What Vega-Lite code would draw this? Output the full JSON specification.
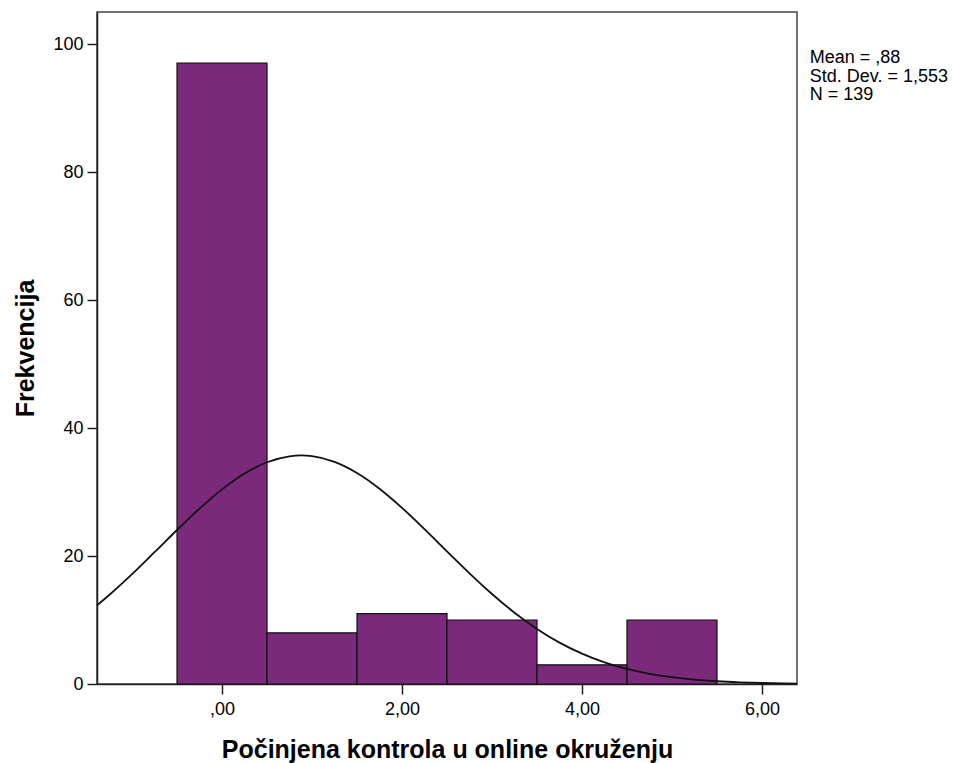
{
  "$schema": "https://vega.github.io/schema/vega-lite/v6.json",
  "autosize": "none",
  "width": 700,
  "height": 672,
  "padding": {"left": 97, "top": 12, "right": 158, "bottom": 79},
  "background": "white",
  "config": {
    "font": "Liberation Sans",
    "view": {"stroke": "#444", "strokeWidth": 1.5},
    "axis": {
      "grid": false,
      "domainColor": "#222",
      "domainWidth": 1.5,
      "tickColor": "#222",
      "tickWidth": 1.5,
      "tickSize": 10,
      "labelColor": "#000",
      "labelFontSize": 18,
      "labelFont": "Liberation Sans",
      "titleColor": "#000",
      "titleFont": "Liberation Sans",
      "titleFontWeight": "bold",
      "titleFontSize": 25
    }
  },
  "datasets": {
    "bins": [
      {"start": -0.5, "end": 0.5, "count": 97},
      {"start": 0.5, "end": 1.5, "count": 8},
      {"start": 1.5, "end": 2.5, "count": 11},
      {"start": 2.5, "end": 3.5, "count": 10},
      {"start": 3.5, "end": 4.5, "count": 3},
      {"start": 4.5, "end": 5.5, "count": 10}
    ],
    "curve": [
      {"x": -1.389, "y": 12.28},
      {"x": -1.25, "y": 13.94},
      {"x": -1.0, "y": 17.16},
      {"x": -0.75, "y": 20.59},
      {"x": -0.5, "y": 24.06},
      {"x": -0.25, "y": 27.40},
      {"x": 0.0, "y": 30.41},
      {"x": 0.25, "y": 32.89},
      {"x": 0.5, "y": 34.65},
      {"x": 0.75, "y": 35.58},
      {"x": 0.88, "y": 35.71},
      {"x": 1.0, "y": 35.60},
      {"x": 1.25, "y": 34.71},
      {"x": 1.5, "y": 32.97},
      {"x": 1.75, "y": 30.52},
      {"x": 2.0, "y": 27.53},
      {"x": 2.25, "y": 24.20},
      {"x": 2.5, "y": 20.72},
      {"x": 2.75, "y": 17.30},
      {"x": 3.0, "y": 14.07},
      {"x": 3.25, "y": 11.14},
      {"x": 3.5, "y": 8.61},
      {"x": 3.75, "y": 6.47},
      {"x": 4.0, "y": 4.75},
      {"x": 4.25, "y": 3.39},
      {"x": 4.5, "y": 2.36},
      {"x": 4.75, "y": 1.60},
      {"x": 5.0, "y": 1.058},
      {"x": 5.25, "y": 0.681},
      {"x": 5.5, "y": 0.428},
      {"x": 5.75, "y": 0.261},
      {"x": 6.0, "y": 0.156},
      {"x": 6.25, "y": 0.090},
      {"x": 6.389, "y": 0.066}
    ],
    "stats": [
      {"x": 6.53, "y": 97.0, "t": "Mean = ,88"},
      {"x": 6.53, "y": 94.1, "t": "Std. Dev. = 1,553"},
      {"x": 6.53, "y": 91.2, "t": "N = 139"}
    ]
  },
  "layer": [
    {
      "data": {"name": "bins"},
      "mark": {"type": "rect", "fill": "#7b2a7b", "stroke": "#111", "strokeWidth": 1.2},
      "encoding": {
        "x": {
          "field": "start", "type": "quantitative",
          "scale": {"domain": [-1.389, 6.389], "nice": false, "zero": false},
          "axis": {
            "values": [0, 2, 4, 6],
            "labelExpr": "datum.value == 0 ? ',00' : replace(format(datum.value, '.2f'), '.', ',')",
            "labelPadding": 6,
            "title": "Počinjena kontrola u online okruženju",
            "titleY": 73,
            "titleBaseline": "alphabetic"
          }
        },
        "x2": {"field": "end"},
        "y": {
          "field": "count", "type": "quantitative",
          "scale": {"domain": [0, 105], "nice": false},
          "axis": {
            "values": [0, 20, 40, 60, 80, 100],
            "labelPadding": 4,
            "title": "Frekvencija",
            "titleX": -64,
            "titleBaseline": "alphabetic"
          }
        },
        "y2": {"datum": 0}
      }
    },
    {
      "data": {"name": "curve"},
      "mark": {"type": "line", "color": "#111", "strokeWidth": 1.8, "interpolate": "monotone"},
      "encoding": {
        "x": {"field": "x", "type": "quantitative"},
        "y": {"field": "y", "type": "quantitative"}
      }
    },
    {
      "data": {"name": "stats"},
      "mark": {"type": "text", "align": "left", "baseline": "alphabetic", "fontSize": 18, "font": "Liberation Sans", "color": "#000"},
      "encoding": {
        "x": {"field": "x", "type": "quantitative"},
        "y": {"field": "y", "type": "quantitative"},
        "text": {"field": "t"}
      }
    }
  ]
}
